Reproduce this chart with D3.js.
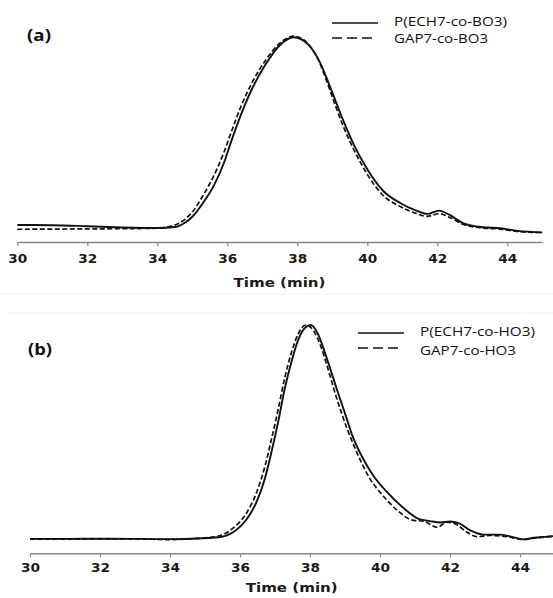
<!DOCTYPE html>
<html>
<head>
<meta charset="utf-8">
<script src="https://cdn.jsdelivr.net/npm/d3@7"></script>
<style>
  body { margin: 0; background: #fff; }
  svg { display: block; }
</style>
</head>
<body>
<div id="chart"></div>
<script>
// x ticks (retention time, min)
const timeTicks = [30, 32, 34, 36, 38, 40, 42, 44];

// panel (a): both traces share one time grid
const timeA = [30, 31, 32, 33, 34, 34.5, 34.8, 35.0, 35.3, 35.6, 35.9, 36.1, 36.4, 36.7, 37.1, 37.5,
  37.9, 38.3, 38.65, 38.85, 39.1, 39.3, 39.6, 40.0, 40.45, 40.95, 41.4, 41.7, 42.05, 42.35, 42.75,
  43.3, 43.8, 44.3, 45];
const echBO3 = [8.3, 8.2, 7.7, 7.1, 6.8, 7.3, 9.5, 12.3, 18.9, 27.0, 38.4, 48.5, 62.5, 74.5, 86.8, 96.0,
  99.9, 96.5, 87.5, 79.5, 68.5, 59.8, 48.0, 35.5, 25.0, 18.9, 15.3, 13.7, 15.3, 13.2, 9.1,
  7.2, 6.7, 5.4, 4.7];
const gapBO3 = [6.2, 6.3, 6.4, 6.5, 6.7, 8.3, 11.2, 14.6, 22.5, 31.8, 43.6, 53.0, 66.5, 77.5, 88.8, 97.0,
  100.4, 96.8, 87.0, 78.0, 66.0, 57.0, 45.6, 33.0, 22.8, 17.2, 13.9, 12.5, 13.8, 12.0, 8.5,
  6.8, 6.3, 5.1, 4.6];

// panel (b)
const timeEchHO3 = [30, 31, 32, 33, 34, 34.6, 35.4, 35.8, 36.2, 36.47, 36.71, 36.9, 37.09, 37.28, 37.47,
  37.66, 37.86, 38.03, 38.24, 38.48, 38.76, 39.05, 39.2, 39.48, 39.81, 40.19, 40.67, 41.1, 41.43,
  41.72, 42.0, 42.25, 42.58, 42.96, 43.44, 43.82, 44.11, 44.39, 44.78, 45.0];
const echHO3 = [6.3, 6.3, 6.4, 6.3, 6.2, 6.4, 7.0, 9.2, 15.1, 22.4, 32.7, 44.4, 57.5, 72.2, 83.9,
  93.4, 98.8, 100, 95.6, 85.4, 72.2, 59.0, 52.0, 42.5, 34.0, 27.0, 19.8, 15.1, 14.1,
  13.5, 13.9, 13.2, 10.0, 8.2, 8.2, 7.0, 6.1, 6.8, 7.3, 7.6];
const timeGapHO3 = [30, 31, 32, 33, 34, 34.6, 35.4, 35.8, 36.2, 36.47, 36.71, 36.9, 37.09, 37.28, 37.47,
  37.66, 37.88, 38.1, 38.3, 38.5, 38.76, 39.05, 39.3, 39.72, 40.1, 40.48, 40.96, 41.24, 41.63,
  41.91, 42.15, 42.49, 42.77, 43.15, 43.63, 44.06, 44.49, 45.0];
const gapHO3 = [6.2, 6.2, 6.3, 6.3, 6.0, 6.3, 7.6, 11.0, 18.0, 26.5, 38.0, 50.0, 63.0, 77.0, 88.0,
  96.0, 100, 97.5, 91.0, 81.5, 68.0, 55.0, 45.5, 32.5, 25.0, 19.0, 14.4, 14.1, 11.4,
  13.6, 12.9, 9.2, 7.3, 7.8, 7.3, 6.1, 6.8, 7.5];

const width = 553, height = 598;
const svg = d3.select("#chart").append("svg")
  .attr("width", width)
  .attr("height", height);

// faint seam between the two stacked figures
svg.append("line").attr("x1", 0).attr("x2", width).attr("y1", 294).attr("y2", 294)
  .attr("stroke", "#eeeeee");
svg.append("line").attr("x1", 7).attr("x2", width).attr("y1", 313).attr("y2", 313)
  .attr("stroke", "#eeeeee");

const panels = [
  {
    tag: "(a)", tagY: 41, tagX: 27,
    x0: 17.3, x1: 542.3, yAxis: 242, yTop: 37,
    titleX: 279.5, titleY: 286.7, labelDy: 20.7,
    legendX: 332, legendTextX: 394, legendY: [23, 38], legendBase: [25.5, 42.5],
    legendW: [113, 94],
    solid: { name: "P(ECH7-co-BO3)", t: timeA, v: echBO3 },
    dashed: { name: "GAP7-co-BO3", t: timeA, v: gapBO3 }
  },
  {
    tag: "(b)", tagY: 355, tagX: 28,
    x0: 30, x1: 555, yAxis: 553.3, yTop: 325,
    titleX: 291.7, titleY: 592, labelDy: 19,
    legendX: 358, legendTextX: 420, legendY: [333, 348], legendBase: [336, 354.5],
    legendW: [115, 96],
    solid: { name: "P(ECH7-co-HO3)", t: timeEchHO3, v: echHO3 },
    dashed: { name: "GAP7-co-HO3", t: timeGapHO3, v: gapHO3 }
  }
];

panels.forEach(p => {
  const x = d3.scaleLinear().domain([30, 45]).range([p.x0, p.x1]);
  const y = d3.scaleLinear().domain([0, 100]).range([p.yAxis, p.yTop]);
  const g = svg.append("g");

  const line = d3.line()
    .x(d => x(d[0]))
    .y(d => y(d[1]))
    .curve(d3.curveMonotoneX);

  g.append("path")
    .datum(d3.zip(p.dashed.t, p.dashed.v))
    .attr("d", line)
    .attr("fill", "none")
    .attr("stroke", "#111")
    .attr("stroke-width", 1.7)
    .attr("stroke-dasharray", "5,2.5");

  g.append("path")
    .datum(d3.zip(p.solid.t, p.solid.v))
    .attr("d", line)
    .attr("fill", "none")
    .attr("stroke", "#111")
    .attr("stroke-width", 1.9);

  const axis = g.append("g")
    .attr("transform", `translate(0,${p.yAxis})`)
    .call(d3.axisBottom(x).tickValues(timeTicks).tickSizeInner(4).tickSizeOuter(0));
  axis.select(".domain").attr("stroke", "#888").attr("stroke-width", 1.5);
  axis.selectAll(".tick line").attr("stroke", "#888").attr("stroke-width", 1.2);
  axis.selectAll(".tick text")
    .attr("y", p.labelDy)
    .attr("dy", 0)
    .attr("fill", "#1a1a1a")
    .style("font-family", "DejaVu Sans")
    .style("font-weight", "bold")
    .style("font-size", "12px")
    .attr("textLength", 19)
    .attr("lengthAdjust", "spacingAndGlyphs");

  g.append("text")
    .attr("x", p.titleX - 46)
    .attr("y", p.titleY)
    .attr("textLength", 92)
    .attr("lengthAdjust", "spacingAndGlyphs")
    .style("font-family", "DejaVu Sans")
    .style("font-weight", "bold")
    .style("font-size", "12.5px")
    .attr("fill", "#1a1a1a")
    .text("Time (min)");

  g.append("text")
    .attr("x", p.tagX)
    .attr("y", p.tagY)
    .attr("textLength", 24)
    .attr("lengthAdjust", "spacingAndGlyphs")
    .style("font-family", "Open Sans")
    .style("font-weight", "bold")
    .style("font-size", "16.5px")
    .attr("fill", "#111")
    .text(p.tag);

  [p.solid, p.dashed].forEach((s, i) => {
    g.append("line")
      .attr("x1", p.legendX)
      .attr("x2", p.legendX + (i === 0 ? 46 : 41))
      .attr("y1", p.legendY[i])
      .attr("y2", p.legendY[i])
      .attr("stroke", "#111")
      .attr("stroke-width", 1.6)
      .attr("stroke-dasharray", i === 0 ? null : "10,5");
    g.append("text")
      .attr("x", p.legendTextX)
      .attr("y", p.legendBase[i])
      .attr("textLength", p.legendW[i])
      .attr("lengthAdjust", "spacingAndGlyphs")
      .style("font-family", "Open Sans")
      .style("font-size", "13px")
      .attr("fill", "#111")
      .text(s.name);
  });
});
</script>
</body>
</html>
